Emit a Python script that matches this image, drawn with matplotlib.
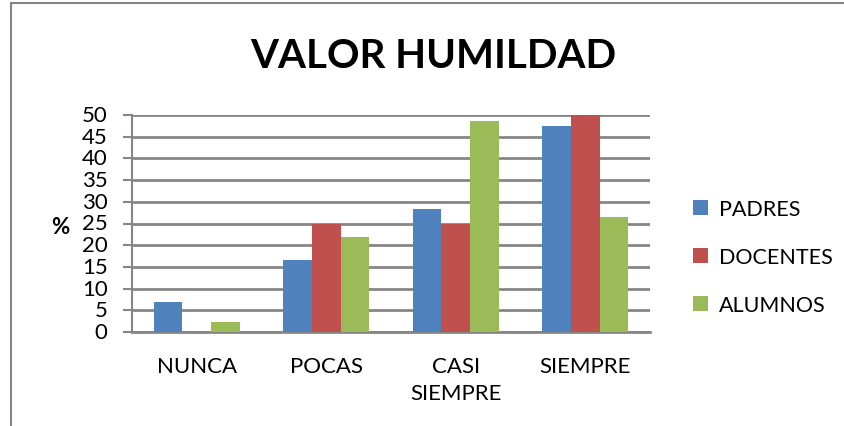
import numpy as np
import matplotlib.pyplot as plt
from matplotlib.lines import Line2D

plt.rcParams['font.family'] = ['Lato', 'DejaVu Sans']

# datos
categorias = ['NUNCA', 'POCAS', 'CASI\nSIEMPRE', 'SIEMPRE']
padres = [7.0, 16.5, 28.4, 47.5]
docentes = [0, 25, 25, 50]
alumnos = [2.3, 22, 48.6, 26.6]

series = ['PADRES', 'DOCENTES', 'ALUMNOS']
colores = ['#4F81BD', '#C0504D', '#9BBB59']

fig = plt.figure(figsize=(8.44, 4.27), dpi=100)
ax = fig.add_axes([132 / 844, 94 / 427, 518 / 844, 217 / 427])

x = np.arange(len(categorias))
ancho = 0.222
for i, (vals, nombre, col) in enumerate(zip([padres, docentes, alumnos], series, colores)):
    ax.bar(x + (i - 1) * ancho, vals, ancho, color=col, label=nombre, zorder=3)

ax.set_xlim(-0.5, 3.5)
ax.set_ylim(0, 50)
ax.set_yticks(range(0, 51, 5))
ax.set_xticks(x)
ax.set_xticklabels(categorias, fontsize=16, linespacing=1.45)
ax.tick_params(axis='x', length=0, pad=17)
ax.tick_params(axis='y', length=6.5, width=1.5, color='#868686', labelsize=16, pad=11)
for lab in ax.get_yticklabels():
    lab.set_verticalalignment('center')

ax.grid(axis='y', color='#868686', linewidth=2, zorder=0)
for s in ['top', 'right']:
    ax.spines[s].set_visible(False)
ax.spines['left'].set_color('#868686')
ax.spines['left'].set_linewidth(1.5)
ax.spines['bottom'].set_color('#868686')
ax.spines['bottom'].set_linewidth(2)

ax.set_ylabel('%', fontsize=16, fontweight='bold', rotation=0, labelpad=0,
              ha='center', va='center')
ax.yaxis.set_label_coords(-0.139, 0.484)

fig.text(433 / 844, 1 - 57 / 427, 'VALOR HUMILDAD', fontsize=29, fontweight='bold',
         ha='center', va='center')

fig.legend(loc='center left', bbox_to_anchor=(693 / 844, 1 - 258 / 427), frameon=False,
           fontsize=15.5, handlelength=0.7, handleheight=0.7, handletextpad=0.5,
           labelspacing=1.3, borderpad=0, borderaxespad=0)

# marco del grafico (solo borde superior e izquierdo visibles)
x0, y0 = 11 / 844, 1 - 4 / 427
fig.add_artist(Line2D([x0, 1.05], [y0, y0], transform=fig.transFigure,
                      color='#868686', linewidth=1.5))
fig.add_artist(Line2D([x0, x0], [y0, -0.05], transform=fig.transFigure,
                      color='#868686', linewidth=1.5))

fig.savefig('out.png', dpi=100)
